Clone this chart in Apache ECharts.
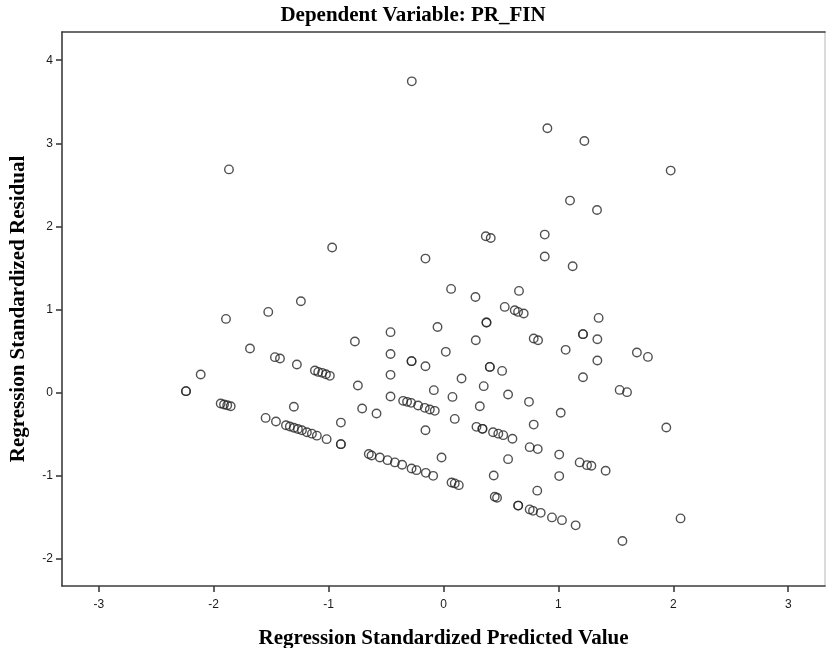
<!DOCTYPE html>
<html>
<head>
<meta charset="utf-8">
<script src="https://cdn.jsdelivr.net/npm/echarts@6/dist/echarts.min.js"></script>
<style>
  html, body { margin: 0; padding: 0; background: #fff; }
  #chart { width: 826px; height: 648px; }
</style>
</head>
<body>
<div id="chart"></div>
<script>
// Regression standardized predicted values (x) and residuals (y), one entry per case
const predicted = [
  -0.276, 0.904, 1.226, -1.867, 1.977, 1.101, 1.336, -0.969, -0.157, 0.368,
  0.411, 0.881, 0.881, 1.124, 0.066, 0.278, 0.657, -1.241, -1.525, -1.893,
  0.533, 0.620, 0.649, 0.698, 1.350, -0.461, -0.052, 0.374, 0.374, 1.214,
  1.214, 1.339, -0.771, 0.281, 0.785, 0.823, -1.684, 0.020, 1.063, 1.683,
  1.779, -0.461, -1.467, -1.423, -1.276, -0.278, -0.278, -0.157, 0.403, 0.403,
  0.510, 1.339, -1.119, -1.090, -1.056, -1.023, -0.989, -2.113, -0.461, 0.157,
  1.214, -0.745, 0.350, -0.084, -2.241, -2.241, 1.533, 1.597, -0.461, 0.078,
  0.562, 0.744, -1.939, -1.910, -1.882, -1.852, -0.351, -0.317, -0.282, -0.221,
  -0.163, -0.119, -0.076, -1.302, -0.708, 0.316, 1.020, -0.583, -1.548, -1.458,
  0.098, -0.893, 0.785, 1.939, -1.371, -1.337, -1.302, -1.267, -1.232, -1.189,
  -1.145, -1.102, -1.017, -0.157, 0.287, 0.339, 0.339, 0.431, 0.477, 0.520,
  0.600, -0.893, -0.893, 0.750, 0.820, -0.650, -0.626, -0.554, -0.487, -0.423,
  -0.360, -0.278, -0.235, -0.154, -0.090, -0.017, 0.562, 1.007, 1.185, 1.249,
  1.287, 1.411, 0.070, 0.098, 0.133, 0.437, 1.007, 0.446, 0.466, 0.816,
  0.650, 0.650, 0.750, 0.779, 0.846, 0.944, 1.031, 1.150, 2.063, 1.557
];
const residual = [
  3.746, 3.181, 3.028, 2.686, 2.671, 2.310, 2.197, 1.745, 1.612, 1.881,
  1.860, 1.901, 1.637, 1.520, 1.247, 1.150, 1.223, 1.099, 0.970, 0.886,
  1.030, 0.990, 0.970, 0.951, 0.898, 0.726, 0.789, 0.842, 0.842, 0.702,
  0.702, 0.641, 0.614, 0.629, 0.650, 0.629, 0.529, 0.489, 0.513, 0.481,
  0.428, 0.464, 0.425, 0.409, 0.337, 0.377, 0.377, 0.316, 0.308, 0.308,
  0.260, 0.385, 0.265, 0.248, 0.236, 0.220, 0.200, 0.217, 0.212, 0.168,
  0.184, 0.084, 0.076, 0.028, 0.016, 0.016, 0.031, 0.004, -0.048, -0.053,
  -0.024, -0.113, -0.132, -0.144, -0.153, -0.165, -0.101, -0.113, -0.125, -0.156,
  -0.185, -0.205, -0.221, -0.171, -0.193, -0.165, -0.245, -0.253, -0.306, -0.349,
  -0.318, -0.363, -0.387, -0.421, -0.394, -0.409, -0.424, -0.439, -0.454, -0.478,
  -0.496, -0.520, -0.562, -0.454, -0.414, -0.438, -0.438, -0.478, -0.496, -0.514,
  -0.558, -0.622, -0.622, -0.658, -0.682, -0.740, -0.758, -0.782, -0.815, -0.842,
  -0.871, -0.915, -0.935, -0.968, -1.004, -0.782, -0.803, -0.748, -0.842, -0.875,
  -0.883, -0.943, -1.083, -1.095, -1.116, -0.999, -1.007, -1.256, -1.268, -1.182,
  -1.362, -1.362, -1.408, -1.425, -1.449, -1.504, -1.537, -1.600, -1.516, -1.789
];

// Tick positions along each axis
const xTicks = [-3, -2, -1, 0, 1, 2, 3];
const yTicks = [-2, -1, 0, 1, 2, 3, 4];

const titleText = 'Dependent Variable: PR_FIN';
const xName = 'Regression Standardized Predicted Value';
const yName = 'Regression Standardized Residual';

const points = predicted.map((x, i) => [x, residual[i]]);

const serifBold = {
  fontFamily: '"Liberation Serif", "Times New Roman", serif',
  fontWeight: 'bold',
  color: '#000'
};
const tickLabelStyle = {
  fontFamily: '"Liberation Sans", Arial, sans-serif',
  fontSize: 12,
  color: '#1a1a1a'
};
const frameDark = { color: '#3c3c3c', width: 1.6 };

const chart = echarts.init(document.getElementById('chart'), null, { renderer: 'canvas' });

chart.setOption({
  backgroundColor: '#fff',
  animation: false,
  title: {
    text: titleText,
    left: 'center',
    top: 0,
    textStyle: Object.assign({ fontSize: 21 }, serifBold)
  },
  // Fixed plot rectangle; the axis names sit in the margins around it
  grid: { left: 62, right: 1, top: 32, bottom: 62, outerBoundsMode: 'none', containLabel: false },
  xAxis: [
    {
      type: 'value',
      position: 'bottom',
      min: -3.32,
      max: 3.32,
      name: xName,
      nameLocation: 'middle',
      nameGap: 42,
      nameTextStyle: Object.assign({ fontSize: 21 }, serifBold),
      axisLine: { show: true, onZero: false, lineStyle: frameDark },
      axisTick: { show: true, length: 6, inside: false, customValues: xTicks, lineStyle: frameDark },
      axisLabel: Object.assign({ margin: 13, customValues: xTicks }, tickLabelStyle),
      splitLine: { show: false }
    },
    {
      type: 'value',
      position: 'top',
      min: -3.32,
      max: 3.32,
      axisLine: { show: true, onZero: false, lineStyle: frameDark },
      axisTick: { show: false },
      axisLabel: { show: false },
      splitLine: { show: false }
    }
  ],
  yAxis: [
    {
      type: 'value',
      position: 'left',
      min: -2.33,
      max: 4.34,
      name: yName,
      nameLocation: 'middle',
      nameGap: 33,
      nameTextStyle: Object.assign({ fontSize: 21 }, serifBold),
      axisLine: { show: true, onZero: false, lineStyle: frameDark },
      axisTick: { show: true, length: 6, inside: false, customValues: yTicks, lineStyle: frameDark },
      axisLabel: Object.assign({ margin: 9, customValues: yTicks }, tickLabelStyle),
      splitLine: { show: false }
    },
    {
      type: 'value',
      position: 'right',
      min: -2.33,
      max: 4.34,
      axisLine: { show: true, onZero: false, lineStyle: { color: '#cfcfcf', width: 1.5 } },
      axisTick: { show: false },
      axisLabel: { show: false },
      splitLine: { show: false }
    }
  ],
  series: [
    {
      type: 'scatter',
      xAxisIndex: 0,
      yAxisIndex: 0,
      data: points,
      symbol: 'circle',
      symbolSize: 8.5,
      itemStyle: {
        color: 'rgba(0,0,0,0)',
        borderColor: '#262626',
        borderWidth: 1.4
      },
      emphasis: { disabled: true }
    }
  ]
});
</script>
</body>
</html>
